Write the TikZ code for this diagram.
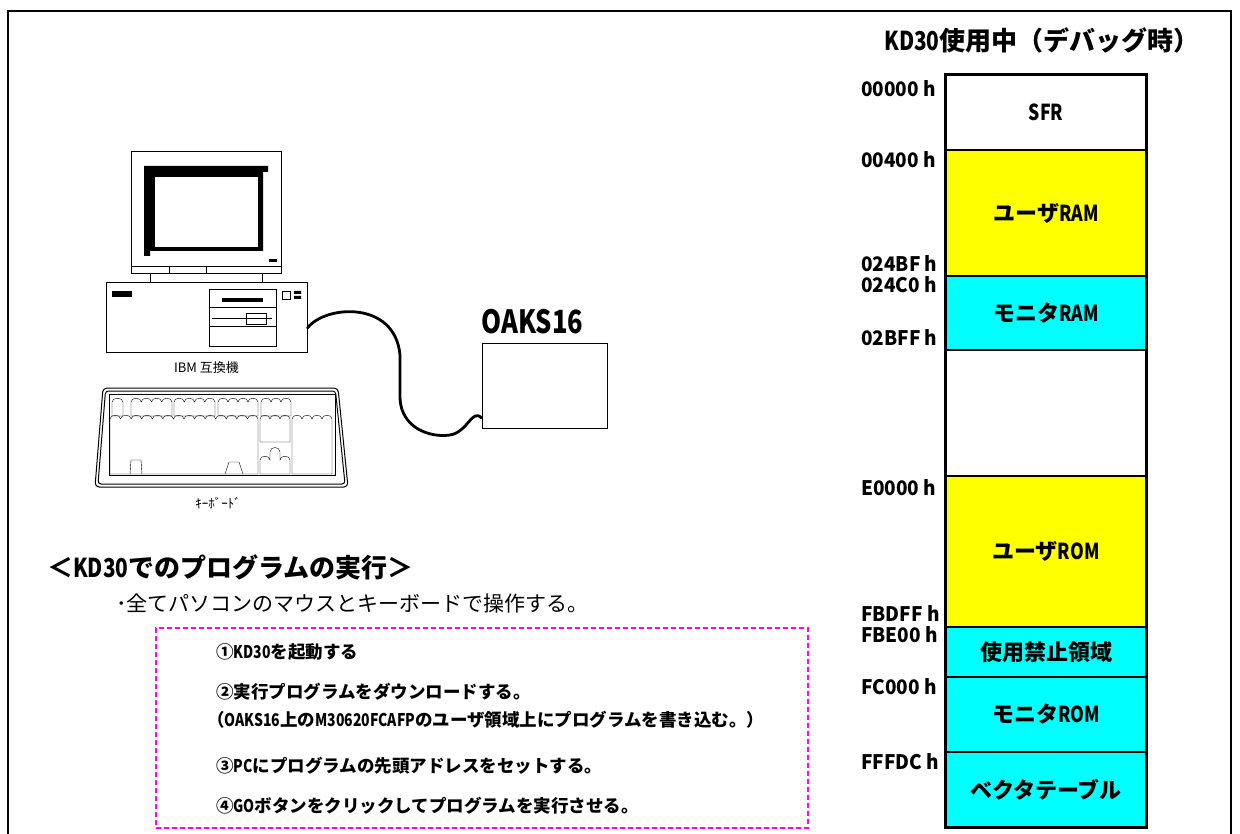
\documentclass[tikz,border=0pt]{standalone}
\usepackage{fontspec}
\setmainfont{Noto Sans CJK JP}
\newfontfamily\han[FakeStretch=0.8]{Noto Sans CJK JP}
\newfontfamily\hex[FakeStretch=0.95]{Noto Sans CJK JP}
\usetikzlibrary{positioning}
\definecolor{MapYellow}{HTML}{FFFF00}
\definecolor{MapCyan}{HTML}{00FFFF}
\definecolor{StepPink}{HTML}{FF00FF}

% one group of keys with a scalloped top: x1, x2, top, bottom, bumps
\newcommand\keygroup[5]{%
  \pgfmathsetmacro\keyw{(#2-#1)/#5}%
  \draw (#1,#4) -- (#1,#3)
    \foreach \k in {1,...,#5}{ .. controls +(0,-5) and +(0,-5) .. ++(\keyw,0)}
    -- (#2,#4) -- cycle;}

\begin{document}
\begin{tikzpicture}[x=1pt,y=-1pt,
    memcell/.style={draw, line width=1.2pt, minimum width=200pt, inner sep=0pt, font=\fontsize{22}{26}\selectfont\bfseries},
    addr/.style={anchor=west, inner sep=0pt, font=\fontsize{20}{24}\selectfont\bfseries\hex},
    stepline/.style={anchor=west, inner sep=0pt, font=\fontsize{17.5}{21}\selectfont\bfseries},
    caption/.style={inner sep=0pt, font=\fontsize{13}{15}\selectfont},
    cable/.style={line width=2.8pt, line cap=round}]

  \useasboundingbox (0,0) rectangle (1240,834);

  % frame, open at the bottom
  \draw[line width=2.2pt] (8,834) -- (8,11) -- (1231,11) -- (1231,834);

  % Monitor
  \draw[line width=1pt] (131,152) rectangle (281,274);
  \draw[line width=1pt] (131,267) -- (281,267) (169,267) -- (169,274) (206,267) -- (206,274);
  \fill (144,166) rectangle (263,251) (263,166) rectangle (268,172) (144,251) rectangle (150,256);
  \filldraw[fill=white, line width=0.6pt] (154,176) rectangle (258,247);
  \fill (269,259) rectangle (277,262);
  \draw[line width=1pt] (150,274) -- (150,283) (262,274) -- (262,283);

  % PC case
  \node[draw, line width=1pt, minimum width=201pt, minimum height=70pt, inner sep=0pt] (pc) at (206.5,318) {};
  \fill (112,291) rectangle (132,297);
  \draw[line width=1pt] (209,290) rectangle (276,347) (209,308) -- (276,308) (209,327) -- (276,327);
  \fill (222,298) rectangle (263,302);
  \draw (212,318) -- (272,318) (246,313) rectangle (266,324);
  \draw (282,291) rectangle (290,299);
  \fill (294,291) rectangle (301,294) (294,296) rectangle (301,299);
  \node[caption, below=8pt of pc] (pclabel) {IBM 互換機};

  % Keyboard
  \draw[line width=1pt, rounded corners=4pt] (103,388) -- (338,388) -- (348,487) -- (95,487) -- cycle;
  \draw[line width=1pt, rounded corners=3pt] (105.5,391) -- (335.5,391) -- (345,484) -- (98,484) -- cycle;
  \draw[line width=0.8pt] (109,394) rectangle (335,475);
  \keygroup{112}{123}{402}{416}{1}
  \keygroup{131}{172}{402}{416}{4}
  \keygroup{174}{215}{402}{416}{4}
  \keygroup{218}{258}{402}{416}{4}
  \keygroup{261}{291}{402}{416}{3}
  \keygroup{110}{258}{419}{474}{14}
  \keygroup{260}{290}{419}{442}{3}
  \keygroup{292}{332}{419}{474}{4}
  \draw (130,474) -- (131,460) -- (141,460) -- (142,474);
  \draw (225,474) -- (229,462) -- (239,462) -- (243,474);
  \draw (260,474) -- (260,460) .. controls (260,455) and (270,455) .. (270,460)
    -- (270,452) .. controls (270,446) and (280,446) .. (280,452)
    -- (280,460) .. controls (280,455) and (290,455) .. (290,460) -- (290,474) -- cycle;
  \node[caption] (kblabel) at (218,503) {ｷｰﾎﾞｰﾄﾞ};

  % OAKS16 board
  \node[draw, line width=1pt, minimum width=125pt, minimum height=84pt, inner sep=0pt] (oaks) at (544.5,386) {};
  \node[above=9pt of oaks.north west, anchor=south west, inner sep=0pt, font=\fontsize{32}{36}\selectfont\bfseries\han] (oakslabel) {OAKS16};

  % serial cable
  \draw[cable] ([yshift=-10pt]pc.east) .. controls (325,305) and (395,300) .. (400,355)
    -- (400,398) .. controls (401,428) and (430,438) .. (450,435)
    .. controls (468,432) and (472,408) .. ([yshift=-32pt]oaks.west);

  % memory map
  \node[font=\fontsize{26}{30}\selectfont\bfseries] (maptitle) at (1042,40) {{\han KD30}使用中（デバッグ時）};
  \foreach \n/\t/\b/\c/\txt in {
      sfr/75/150/white/{\han SFR},
      uram/150/276/MapYellow/ユーザ{\han RAM},
      mram/276/350/MapCyan/モニタ{\han RAM},
      free/350/476/white/{},
      urom/476/627/MapYellow/ユーザ{\han ROM},
      resv/627/677/MapCyan/使用禁止領域,
      mrom/677/752/MapCyan/モニタ{\han ROM},
      vec/752/827/MapCyan/ベクタテーブル}
    \node[memcell, fill=\c, minimum height={\b-\t}] (\n) at (1046,{(\t+\b)/2}) {\txt};
  \draw[line width=3pt] (sfr.north west) rectangle (vec.south east);

  \foreach \a/\y [count=\i] in {00000 h/89, 00400 h/160, 024BF h/264, 024C0 h/285, 02BFF h/338,
      E0000 h/488, FBDFF h/614, FBE00 h/635, FC000 h/687, FFFDC h/762}
    \node[addr] (adr\i) at (861,\y) {\a};

  % how to run a program
  \node[anchor=west, inner sep=0pt, font=\fontsize{26}{30}\selectfont\bfseries] (runhead) at (47,567) {＜{\han KD30}でのプログラムの実行＞};
  \node[anchor=west, inner sep=0pt, font=\fontsize{21}{25}\selectfont] (runnote) at (116,604) {･全てパソコンのマウスとキーボードで操作する。};

  \node[draw=StepPink, dash pattern=on 5pt off 3pt, line width=1.3pt, minimum width=652pt, minimum height=200pt] (steps) at (482,728) {};
  \foreach \x/\y/\s [count=\i] in {
      216/652/①{\han KD30}を起動する,
      216/692/②実行プログラムをダウンロードする。,
      207/720/（{\han OAKS16}上の{\han M30620FCAFP}のユーザ領域上にプログラムを書き込む。）,
      216/766/③{\han PC}にプログラムの先頭アドレスをセットする。,
      216/806/④{\han GO}ボタンをクリックしてプログラムを実行させる。}
    \node[stepline] (step\i) at (\x,\y) {\s};
\end{tikzpicture}
\end{document}
